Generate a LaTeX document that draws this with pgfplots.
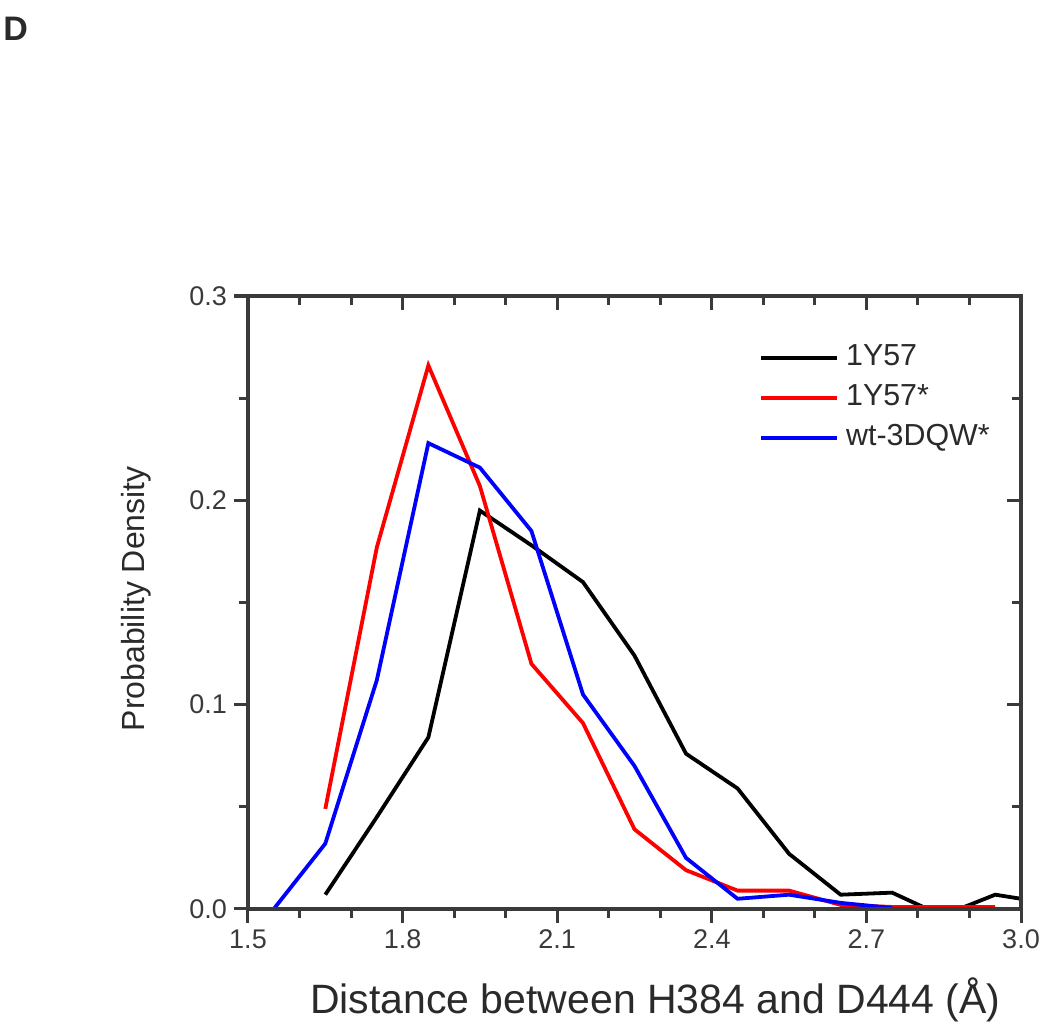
\documentclass[border=0pt]{standalone}
\usepackage{pgfplots}
\pgfplotsset{compat=1.18}
\usepackage{fontspec}
\setmainfont{Liberation Sans}
\definecolor{axgray}{HTML}{3A3A3A}
\definecolor{txt}{HTML}{2A2A2A}
\begin{document}
\begin{tikzpicture}[x=1pt,y=1pt]
\path[use as bounding box] (0,0) rectangle (525,514);
\node[font=\bfseries\fontsize{17}{20}\selectfont, text=txt, anchor=center] at (7.8,499.5) {D};
\pgfplotsset{
  base/.style={
    at={(124pt,59.5pt)}, anchor=south west,
    scale only axis, width=386.5pt, height=306.5pt,
    xmin=1.5, xmax=3.0, ymin=0, ymax=0.3,
    xtick={1.5,1.8,2.1,2.4,2.7,3.0},
    ytick={0,0.1,0.2,0.3},
    minor x tick num=2, minor y tick num=1,
    major tick length=7pt, minor tick length=4.5pt,
    axis line style={axgray, line width=1.9pt},
    every tick/.style={axgray, line width=1.5pt},
    every minor tick/.style={axgray, line width=1.5pt},
  }
}
\begin{axis}[base,
  tick align=outside,
  xtick pos=bottom, ytick pos=left,
  /pgf/number format/assume math mode=true,
  xticklabel style={/pgf/number format/.cd, fixed, fixed zerofill, precision=1, /tikz/.cd, font=\fontsize{13.5}{16}\selectfont, text=axgray},
  yticklabel style={/pgf/number format/.cd, fixed, fixed zerofill, precision=1, /tikz/.cd, font=\fontsize{13.5}{16}\selectfont, text=axgray},
  xlabel={Distance between H384 and D444 (Å)},
  ylabel={Probability Density},
  xlabel style={at={(axis description cs:0.527,0)}, anchor=center, yshift=-45.5pt, font=\fontsize{20.5}{24}\selectfont, text=txt},
  ylabel style={at={(axis description cs:-0.145,0.506)}, anchor=center, font=\fontsize{16}{19}\selectfont, text=txt},
  legend style={at={(rel axis cs:0.661,0.922)}, anchor=north west, draw=none, fill=none,
    font=\fontsize{15.2}{18}\selectfont, text=txt, row sep=6pt, inner sep=0pt,
    nodes={inner sep=0pt, text height=10.5pt, text depth=3.5pt}},
  legend cell align=left,
  legend image code/.code={\draw[#1] (0pt,0pt) -- (38pt,0pt); \path (41.5pt,0pt);},
  clip=true,
]
\addplot[black, line width=1.9pt] coordinates {
(1.65,0.007) (1.75,0.045) (1.85,0.084) (1.95,0.195) (2.05,0.178) (2.15,0.160)
(2.25,0.124) (2.35,0.076) (2.45,0.059) (2.55,0.027) (2.65,0.007) (2.75,0.008)
(2.81,0.001) (2.89,0.001) (2.95,0.007) (3.00,0.005)
};
\addlegendentry{1Y57}
\addplot[red, line width=1.9pt] coordinates {
(1.65,0.049) (1.75,0.177) (1.85,0.266) (1.95,0.207) (2.05,0.120) (2.15,0.091)
(2.25,0.039) (2.35,0.019) (2.45,0.009) (2.55,0.009) (2.65,0.002) (2.75,0.001)
(2.85,0.001) (2.95,0.001)
};
\addlegendentry{1Y57*}
\addplot[blue, line width=1.9pt] coordinates {
(1.55,0.000) (1.65,0.032) (1.75,0.112) (1.85,0.228) (1.95,0.216) (2.05,0.185)
(2.15,0.105) (2.25,0.070) (2.35,0.025) (2.45,0.005) (2.55,0.007) (2.65,0.003)
(2.75,0.0005)
};
\addlegendentry{wt-3DQW*}
\end{axis}
\begin{axis}[base,
  tick align=inside,
  xtick pos=top, ytick pos=right,
  xticklabels={}, yticklabels={},
]
\end{axis}
\end{tikzpicture}
\end{document}
